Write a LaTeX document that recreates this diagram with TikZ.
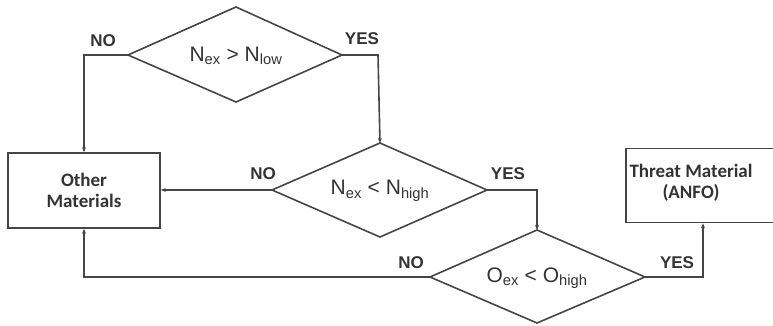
\documentclass[tikz,border=0pt]{standalone}
\usepackage{fontspec}
\setmainfont{Liberation Sans}
\newfontfamily\boxfont{Carlito}
\usetikzlibrary{arrows.meta}
\definecolor{ln}{HTML}{454545}
\definecolor{tx}{HTML}{333333}
\begin{document}
\begin{tikzpicture}[x=1pt,y=-1pt,
  line width=1.6pt,
  lnk/.style={draw=ln,line width=1.6pt,-{Stealth[length=5pt,width=4pt]}},
  lbl/.style={font=\fontsize{17}{19}\selectfont\bfseries,text=tx,inner sep=0pt},
  dtxt/.style={font=\fontsize{21}{24}\selectfont,text=tx,inner sep=0pt},
  btxt/.style={font=\boxfont\fontsize{19}{21}\selectfont\bfseries,text=tx,align=center,inner sep=0pt}]
\useasboundingbox (0,0) rectangle (773,326);
\clip (0,0) rectangle (773,326);
% diamonds
\coordinate (d1t) at (236,7); \coordinate (d1l) at (128,55); \coordinate (d1r) at (342,55); \coordinate (d1b) at (236,102);
\coordinate (d2t) at (380,143); \coordinate (d2l) at (272,190); \coordinate (d2r) at (487,190); \coordinate (d2b) at (380,237);
\coordinate (d3t) at (537,230); \coordinate (d3l) at (430,277); \coordinate (d3r) at (645,277); \coordinate (d3b) at (537,323);
\draw[ln] (d1t) -- (d1r) -- (d1b) -- (d1l) -- cycle;
\draw[ln] (d2t) -- (d2r) -- (d2b) -- (d2l) -- cycle;
\draw[ln] (d3t) -- (d3r) -- (d3b) -- (d3l) -- cycle;
\node[dtxt] (t1) at (236,56) {N\textsubscript{ex} > N\textsubscript{low}};
\node[dtxt] (t2) at (380,191) {N\textsubscript{ex} < N\textsubscript{high}};
\node[dtxt] (t3) at (537,278) {O\textsubscript{ex} < O\textsubscript{high}};
% boxes
\node[draw=ln,line width=1.6pt,minimum width=152pt,minimum height=75pt,inner sep=0pt] (om) at (84,190.5) {};
\node[btxt] (omt) at (84,190) {Other\\Materials};
\node[draw=ln,line width=1.6pt,minimum width=160pt,minimum height=74pt,inner sep=0pt] (tm) at (706,185.5) {};
\node[btxt] (tmt) at (691,183) {Threat Material\\(ANFO)};
% connectors
\coordinate (c1) at (84,55);
\draw[lnk] (d1l) -- (c1) -- (om.north);
\coordinate (c2) at (378,55);
\draw[lnk] (d1r) -- (c2) -- (d2t);
\draw[lnk] (d2l) -- (om.east |- d2l);
\coordinate (c3) at (537,190);
\draw[lnk] (d2r) -- (c3) -- (d3t);
\coordinate (c4) at (84,277);
\draw[lnk] (d3l) -- (c4) -- (om.south);
\coordinate (c5) at (703,277);
\draw[lnk] (d3r) -- (c5) -- (c5 |- tm.south);
% labels
\node[lbl] (n1) at (103,41) {NO};
\node[lbl] (y1) at (362,39) {YES};
\node[lbl] (n2) at (263,174) {NO};
\node[lbl] (y2) at (508,174) {YES};
\node[lbl] (n3) at (411,263) {NO};
\node[lbl] (y3) at (677,263) {YES};
\end{tikzpicture}
\end{document}
